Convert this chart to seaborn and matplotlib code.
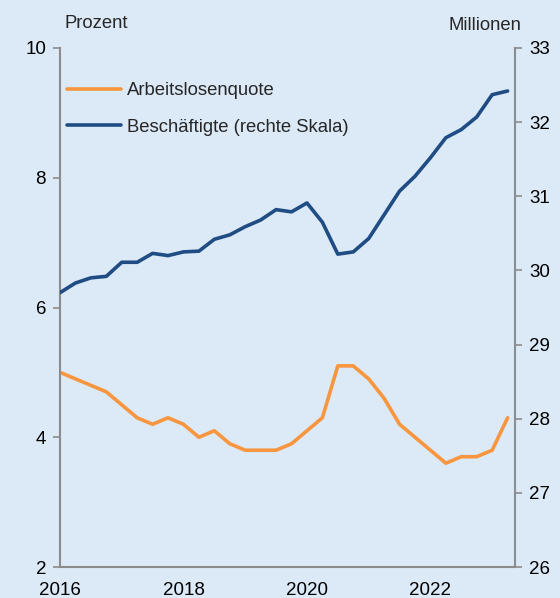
import numpy as np
import pandas as pd
import matplotlib
matplotlib.use('Agg')
import matplotlib.pyplot as plt
import seaborn as sns

# Quartalswerte 2016 Q1 - 2023 Q2
quartale = pd.period_range('2016Q1', '2023Q2', freq='Q')
arbeitslosenquote = [5.0, 4.9, 4.8, 4.7, 4.5, 4.3, 4.2, 4.3, 4.2, 4.0,
                     4.1, 3.9, 3.8, 3.8, 3.8, 3.9, 4.1, 4.3, 5.1, 5.1,
                     4.9, 4.6, 4.2, 4.0, 3.8, 3.6, 3.7, 3.7, 3.8, 4.3]
beschaeftigte = [29.70, 29.83, 29.90, 29.92, 30.11, 30.11, 30.23, 30.20, 30.25, 30.26,
                 30.42, 30.48, 30.59, 30.68, 30.82, 30.79, 30.91, 30.65, 30.22, 30.25,
                 30.43, 30.75, 31.07, 31.27, 31.52, 31.79, 31.90, 32.07, 32.37, 32.42]

df = pd.DataFrame({
    'zeit': [p.year + (p.quarter - 1) / 4 for p in quartale],
    'quote': arbeitslosenquote,
    'besch': beschaeftigte,
})

bg = '#dce9f7'
orange = '#f7963f'
blau = '#1f4c82'
grau = '#8c8c8c'

sns.set_style('white')
plt.rcParams['font.family'] = ['Liberation Sans', 'DejaVu Sans']

fig = plt.figure(figsize=(5.6, 5.98), dpi=100, facecolor=bg)
ax = fig.add_axes([60 / 560, 1 - 567 / 598, 455 / 560, 519 / 598])
ax.set_facecolor(bg)
ax2 = ax.twinx()

sns.lineplot(data=df, x='zeit', y='quote', ax=ax, color=orange, linewidth=2.6,
             label='Arbeitslosenquote', legend=False)
sns.lineplot(data=df, x='zeit', y='besch', ax=ax2, color=blau, linewidth=2.6,
             label='Beschäftigte (rechte Skala)', legend=False)

ax.set_xlim(2016, 2023.37)
ax.set_ylim(2, 10)
ax2.set_ylim(26, 33)
ax.set_xticks(range(2016, 2024))
ax.set_xticklabels([str(j) if j % 2 == 0 else '' for j in range(2016, 2024)])
ax.set_yticks([2, 4, 6, 8, 10])
ax2.set_yticks(range(26, 34))
ax.set_xlabel('')
ax.set_ylabel('')
ax2.set_ylabel('')

for a in (ax, ax2):
    for s in a.spines.values():
        s.set_visible(False)
    a.tick_params(colors=grau, labelcolor='black', labelsize=13.5, length=5, width=1.2, pad=5)
ax.spines['left'].set_visible(True)
ax.spines['bottom'].set_visible(True)
ax2.spines['right'].set_visible(True)
for s in (ax.spines['left'], ax.spines['bottom'], ax2.spines['right']):
    s.set_color(grau)
    s.set_linewidth(1.5)
ax.tick_params(axis='x', pad=6)

fig.text(65 / 560, 1 - 23 / 598, 'Prozent', fontsize=13.3, va='center', ha='left')
fig.text(521 / 560, 1 - 26 / 598, 'Millionen', fontsize=13.3, va='center', ha='right')

h1, l1 = ax.get_legend_handles_labels()
h2, l2 = ax2.get_legend_handles_labels()
ax.legend(h1 + h2, l1 + l2, loc='upper left', bbox_to_anchor=(0.0, 0.948), borderaxespad=0,
          frameon=False, fontsize=13.3, handlelength=2.9, handletextpad=0.33, labelspacing=1.05)

fig.savefig('out.png', dpi=100, facecolor=bg)
